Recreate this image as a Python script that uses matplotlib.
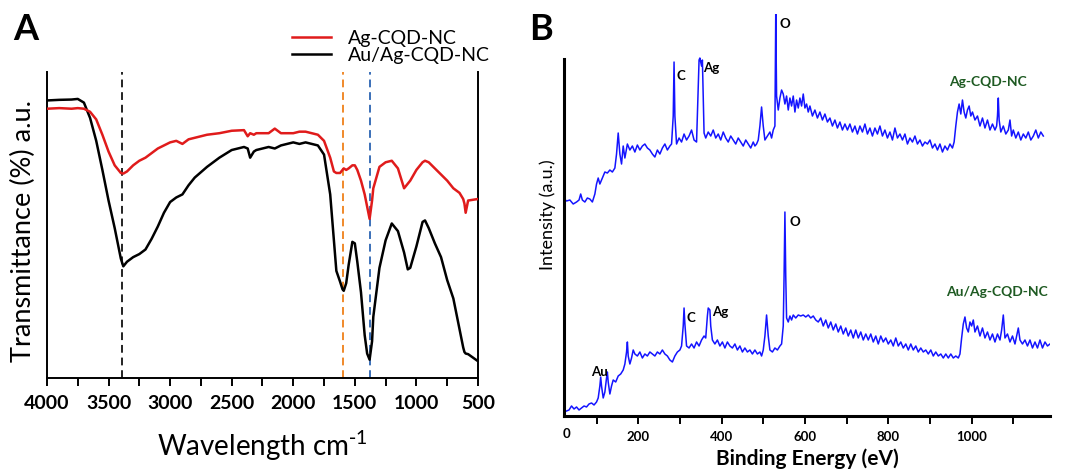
import numpy as np
import matplotlib.pyplot as plt

# ---- panel A: FTIR ----
wn = [4000, 3900, 3800, 3750, 3700, 3650, 3600, 3550, 3500, 3450, 3400, 3380, 3350, 3300, 3250,
      3200, 3150, 3100, 3050, 3000, 2950, 2900, 2850, 2800, 2700, 2600, 2500, 2400, 2370, 2350,
      2320, 2300, 2200, 2150, 2100, 2000, 1950, 1900, 1800, 1750, 1700, 1670, 1650, 1620, 1600,
      1590, 1570, 1550, 1520, 1500, 1480, 1450, 1420, 1400, 1380, 1360, 1350, 1300, 1250, 1200,
      1150, 1100, 1070, 1050, 1000, 950, 930, 900, 850, 800, 750, 700, 650, 620, 610, 600, 580, 500]
t_auag = [90.7, 90.9, 91.0, 91.2, 90.0, 85.0, 77.5, 68.0, 58.0, 49.0, 39.0, 36.5, 38.0, 39.5, 40.5,
          42.0, 45.5, 49.5, 54.0, 57.5, 59.0, 60.0, 63.0, 65.5, 69.0, 72.0, 74.5, 75.5, 75.0, 72.0,
          74.0, 74.5, 75.5, 75.0, 76.0, 77.0, 76.5, 77.0, 76.0, 73.0, 60.0, 45.0, 35.0, 31.5, 29.0,
          28.5, 31.0, 37.0, 44.5, 44.0, 38.0, 28.0, 14.0, 8.0, 6.0, 12.0, 20.0, 36.0, 45.0, 50.5,
          48.0, 41.0, 35.5, 36.0, 43.0, 51.0, 51.5, 49.0, 44.0, 39.5, 32.0, 26.0, 16.0, 10.0, 8.5,
          8.0, 7.8, 5.5]
t_ag = [88.0, 88.2, 88.0, 88.2, 88.0, 87.0, 84.5, 79.5, 74.0, 69.5, 67.0, 66.8, 67.5, 69.5, 71.0,
        72.0, 73.5, 75.0, 76.0, 77.0, 77.5, 76.5, 78.0, 78.5, 79.5, 80.0, 80.8, 81.0, 79.0, 80.0,
        79.5, 80.0, 80.0, 81.5, 80.0, 80.0, 80.5, 80.5, 79.5, 77.5, 72.0, 67.5, 67.0, 67.0, 68.0,
        68.5, 68.0, 68.5, 69.5, 69.5, 68.0, 64.5, 60.0, 56.0, 52.0, 58.0, 62.0, 69.0, 70.5, 71.0,
        68.5, 62.0, 63.5, 64.5, 68.0, 70.5, 71.0, 70.5, 68.5, 66.5, 64.5, 62.0, 60.5, 58.5, 57.0,
        54.0, 58.0, 58.5]
wn_marks = [3390, 1592, 1380]
mark_colors = ['#222222', '#f0892a', '#3a6fb8']
wn_ticks = [4000, 3500, 3000, 2500, 2000, 1500, 1000, 500]

# ---- panel B: XPS survey, (binding energy eV, intensity a.u.) ----
xps_ag = [(14, 208), (20, 218), (28, 215), (36, 216), (44, 212), (52, 214), (58, 216), (62, 222),
          (66, 216), (72, 214), (78, 218), (84, 217), (90, 214), (96, 222), (100, 232), (104, 238),
          (108, 232), (112, 236), (116, 240), (120, 244), (126, 243), (132, 246), (138, 244),
          (144, 248), (148, 262), (152, 283), (156, 262), (160, 252), (164, 270), (168, 258),
          (174, 272), (180, 266), (186, 270), (192, 264), (198, 271), (204, 266), (210, 270),
          (216, 272), (222, 268), (228, 266), (234, 262), (240, 259), (246, 266), (252, 262),
          (258, 268), (264, 272), (270, 266), (276, 270), (280, 272), (284, 300), (286, 354),
          (288, 300), (292, 272), (298, 278), (304, 274), (310, 282), (316, 276), (322, 280),
          (328, 286), (334, 276), (340, 274), (344, 330), (346, 356), (348, 358), (352, 350),
          (354, 356), (356, 320), (358, 283), (362, 278), (368, 284), (374, 280), (380, 286),
          (386, 278), (392, 282), (398, 276), (404, 284), (410, 278), (416, 274), (422, 280),
          (428, 276), (434, 272), (440, 278), (446, 274), (452, 270), (458, 276), (464, 272),
          (470, 268), (476, 274), (480, 270), (484, 272), (488, 276), (492, 290), (496, 309),
          (500, 290), (504, 276), (510, 280), (516, 284), (520, 278), (524, 286), (528, 290),
          (530, 402), (532, 320), (536, 306), (540, 318), (544, 326), (548, 322), (552, 312),
          (556, 320), (560, 306), (564, 318), (568, 310), (572, 320), (576, 304), (580, 316),
          (584, 308), (588, 318), (592, 310), (596, 322), (600, 308), (604, 312), (608, 304),
          (612, 310), (618, 300), (624, 306), (630, 298), (636, 304), (642, 296), (648, 302),
          (654, 294), (660, 298), (666, 290), (672, 296), (678, 288), (684, 294), (690, 286),
          (696, 292), (702, 286), (708, 292), (714, 284), (720, 290), (726, 282), (732, 290),
          (738, 284), (744, 292), (750, 282), (756, 288), (762, 280), (768, 288), (774, 282),
          (780, 290), (786, 280), (792, 286), (798, 278), (804, 284), (810, 276), (816, 288),
          (822, 278), (828, 282), (834, 276), (840, 282), (846, 272), (852, 278), (858, 274),
          (864, 280), (870, 272), (876, 276), (882, 270), (888, 274), (894, 272), (900, 276),
          (906, 268), (912, 272), (918, 266), (924, 272), (930, 264), (936, 270), (942, 266),
          (948, 272), (954, 268), (958, 274), (962, 290), (966, 304), (970, 312), (974, 302),
          (978, 316), (982, 304), (986, 298), (990, 306), (994, 310), (998, 300), (1002, 304),
          (1008, 296), (1014, 300), (1020, 290), (1026, 298), (1032, 288), (1038, 296),
          (1044, 286), (1050, 292), (1056, 286), (1060, 290), (1062, 300), (1064, 318),
          (1066, 296), (1070, 284), (1076, 290), (1082, 282), (1088, 286), (1092, 296),
          (1096, 280), (1100, 286), (1106, 278), (1112, 284), (1118, 276), (1124, 282),
          (1130, 278), (1136, 284), (1142, 276), (1148, 280), (1154, 286), (1160, 278),
          (1166, 284), (1172, 280)]
xps_auag = [(28, 5), (34, 6), (40, 10), (46, 7), (52, 9), (58, 6), (64, 8), (70, 10), (76, 9),
            (82, 12), (88, 13), (94, 11), (100, 14), (104, 18), (108, 30), (110, 39), (112, 30),
            (116, 18), (120, 24), (124, 38), (126, 44), (128, 34), (132, 22), (136, 30), (140, 36),
            (146, 34), (152, 40), (158, 42), (164, 46), (168, 52), (172, 64), (174, 74), (176, 60),
            (180, 52), (184, 58), (188, 66), (192, 62), (198, 60), (204, 64), (210, 58), (216, 62),
            (222, 60), (228, 64), (234, 62), (240, 60), (246, 64), (252, 62), (258, 66), (264, 62),
            (270, 60), (276, 56), (282, 54), (288, 60), (294, 64), (300, 66), (304, 70), (308, 90),
            (310, 108), (312, 92), (316, 70), (322, 68), (328, 72), (334, 68), (340, 74), (346, 70),
            (352, 76), (358, 80), (362, 78), (366, 100), (368, 108), (372, 106), (374, 90),
            (378, 76), (384, 72), (390, 76), (396, 70), (402, 74), (408, 68), (414, 74), (420, 70),
            (426, 68), (432, 72), (438, 66), (444, 70), (450, 64), (456, 68), (462, 64), (468, 66),
            (474, 62), (480, 66), (486, 62), (492, 64), (496, 60), (500, 66), (504, 80), (508, 101),
            (512, 80), (516, 66), (522, 64), (528, 68), (534, 66), (540, 70), (544, 72), (548, 90),
            (550, 140), (552, 204), (554, 140), (556, 98), (560, 94), (564, 100), (568, 96),
            (572, 101), (578, 98), (584, 101), (590, 100), (596, 101), (602, 99), (608, 101),
            (614, 98), (620, 100), (626, 96), (632, 94), (638, 98), (644, 90), (650, 96), (656, 88),
            (662, 94), (668, 86), (674, 92), (680, 84), (686, 90), (692, 82), (698, 88), (704, 80),
            (710, 86), (716, 78), (722, 86), (728, 78), (734, 84), (740, 76), (746, 82), (752, 76),
            (758, 82), (764, 74), (770, 80), (776, 72), (782, 80), (788, 74), (794, 78), (800, 72),
            (806, 76), (812, 70), (818, 78), (824, 70), (830, 74), (836, 68), (842, 72), (848, 66),
            (854, 72), (860, 66), (866, 70), (872, 64), (878, 68), (884, 64), (890, 66), (896, 62),
            (902, 66), (908, 60), (914, 64), (920, 60), (926, 62), (932, 58), (938, 62), (944, 58),
            (950, 62), (956, 58), (962, 60), (968, 58), (972, 62), (976, 78), (980, 92), (984, 99),
            (988, 88), (992, 84), (996, 94), (1000, 90), (1004, 96), (1008, 84), (1014, 90),
            (1020, 80), (1026, 88), (1032, 78), (1038, 84), (1044, 76), (1050, 82), (1056, 74),
            (1062, 82), (1068, 76), (1072, 86), (1076, 101), (1080, 78), (1086, 82), (1092, 74),
            (1098, 80), (1104, 72), (1108, 80), (1112, 88), (1116, 76), (1122, 72), (1128, 76),
            (1134, 70), (1140, 76), (1146, 68), (1152, 74), (1158, 68), (1164, 76), (1170, 68),
            (1176, 74), (1182, 70), (1188, 72)]
be_ticks = [200, 400, 600, 800, 1000]

plt.rcParams['font.family'] = ['Lato', 'DejaVu Sans']

fig = plt.figure(figsize=(10.65, 4.74), dpi=100)

# ---------------- A ----------------
axa = fig.add_axes([0.0441, 0.2025, 0.4047, 0.6456])
for w, c in zip(wn_marks, mark_colors):
    axa.axvline(w, color=c, lw=1.4, ls=(0, (4, 2.5)), zorder=1)
axa.plot(wn, t_ag, color='#e01b1b', lw=1.8, zorder=3, label='Ag-CQD-NC')
axa.plot(wn, t_auag, color='black', lw=1.8, zorder=2, label='Au/Ag-CQD-NC')
axa.set_xlim(4000, 500)
axa.set_ylim(0, 100)
axa.set_xticks(wn_ticks)
axa.set_xticks(np.arange(500, 4001, 250), minor=True)
axa.set_yticks([])
axa.spines['top'].set_visible(False)
for s in ['left', 'right', 'bottom']:
    axa.spines[s].set_linewidth(1.4)
axa.tick_params(axis='x', which='both', direction='out', length=6, width=1.4, labelsize=14, pad=6)
for lab in axa.get_xticklabels():
    lab.set_fontweight('bold')
axa.set_xlabel('Wavelength cm$^{\\mathregular{\\text{-}1}}$', fontsize=20, labelpad=12)
axa.set_ylabel('Transmittance (%) a.u.', fontsize=19.5)
axa.yaxis.set_label_coords(-0.025, 0.48)
leg = axa.legend(loc='lower left', bbox_to_anchor=(0.55, 1.0), frameon=False,
                 handlelength=2.0, handletextpad=0.9, labelspacing=0.0, borderaxespad=0,
                 prop={'size': 14})
fig.text(0.012, 0.915, 'A', fontsize=26, fontweight='bold')

# ---------------- B ----------------
be_ag, i_ag = zip(*xps_ag)
be_auag, i_auag = zip(*xps_auag)
axb = fig.add_axes([0.5296, 0.1224, 0.4563, 0.848])
axb.plot(be_ag, i_ag, color='#1414ff', lw=1.1)
axb.plot(be_auag, i_auag, color='#1414ff', lw=1.1)
axb.set_xlim(22, 1188)
axb.set_ylim(0, 402)
axb.spines['top'].set_visible(False)
axb.spines['right'].set_visible(False)
axb.spines['left'].set_bounds(0, 357)
axb.spines['left'].set_linewidth(2.2)
axb.spines['bottom'].set_linewidth(2.2)
axb.set_yticks([])
axb.set_xticks(be_ticks)
axb.set_xticks(np.arange(100, 1101, 200), minor=True)
axb.tick_params(axis='x', which='both', direction='out', length=6, width=1.4, labelsize=9.5, pad=5)
for lab in axb.get_xticklabels():
    lab.set_fontweight('bold')
axb.text(28, -12, '0', fontsize=9.5, fontweight='bold', ha='center', va='top')
axb.set_xlabel('Binding Energy (eV)', fontsize=15, fontweight='bold', labelpad=4)
axb.set_ylabel('Intensity (a.u.)', fontsize=13, labelpad=6)
ann = [(292, 340, 'C'), (355, 348, 'Ag'), (538, 392, 'O'),
       (316, 98, 'C'), (378, 104, 'Ag'), (562, 194, 'O'), (88, 44, 'Au')]
for x, y, s in ann:
    axb.text(x, y, s, fontsize=9.5, fontweight='bold', ha='left', va='center')
axb.text(1040, 330, 'Ag-CQD-NC', fontsize=10, fontweight='bold', color='#1e5a22', ha='center')
axb.text(1060, 120, 'Au/Ag-CQD-NC', fontsize=10, fontweight='bold', color='#1e5a22', ha='center')
fig.text(0.497, 0.915, 'B', fontsize=26, fontweight='bold')

fig.savefig('out.png', dpi=100)
